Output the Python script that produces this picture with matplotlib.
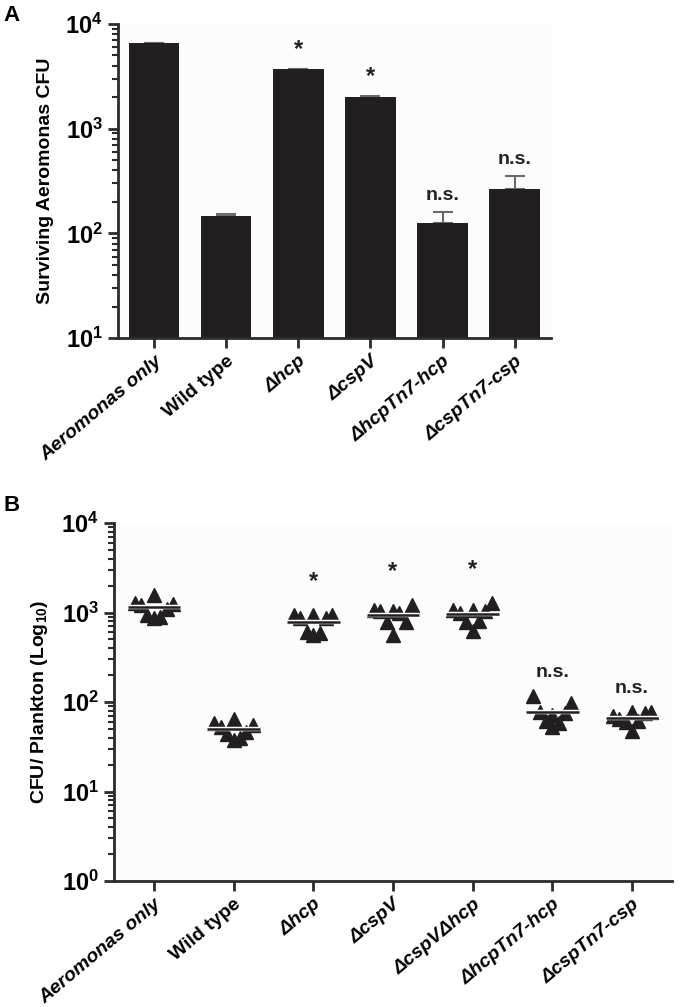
import numpy as np
import matplotlib
matplotlib.use("Agg")
import matplotlib.pyplot as plt
from matplotlib.ticker import LogLocator, NullFormatter, FixedLocator

plt.rcParams['font.family'] = ['Liberation Sans', 'DejaVu Sans']
plt.rcParams['mathtext.fontset'] = 'custom'
plt.rcParams['mathtext.rm'] = 'Liberation Sans'
plt.rcParams['mathtext.bf'] = 'Liberation Sans:bold'

# ---- data, panel A ----
labels_a = ['Aeromonas only', 'Wild type', 'Δhcp', 'ΔcspV', 'ΔhcpTn7-hcp', 'ΔcspTn7-csp']
cfu_mean = [6600, 147, 3700, 2010, 126, 265]
cfu_err = [0, 6, 0, 40, 34, 88]
sig_a = ['', '', '*', '*', 'n.s.', 'n.s.']

# ---- data, panel B ----
labels_b = ['Aeromonas only', 'Wild type', 'Δhcp', 'ΔcspV', 'ΔcspVΔhcp', 'ΔhcpTn7-hcp', 'ΔcspTn7-csp']
plankton = [
    [1280, 1200, 950, 880, 900, 1100, 1250, 1570],
    [58, 52, 44, 38, 40, 46, 55, 65],
    [930, 870, 600, 560, 590, 870, 940, 950],
    [1070, 1030, 790, 560, 1000, 780, 1220, 1050],
    [1060, 1000, 790, 620, 800, 1050, 1280, 1080],
    [118, 78, 62, 53, 58, 75, 98, 72],
    [70, 65, 60, 48, 62, 75, 78, 77],
]
sig_b = ['', '', '*', '*', '*', 'n.s.', 'n.s.']

bar_color = '#231f20'
spine_color = '#2b2b2b'
offsets = [-0.24, -0.16, -0.08, 0.0, 0.08, 0.16, 0.24, 0.0]

fig = plt.figure(figsize=(6.8, 10.07), dpi=100)
axA = fig.add_axes([0.1735, 0.6643, 0.6365, 0.3119])
axB = fig.add_axes([0.1676, 0.1251, 0.8204, 0.3555])


def style_axis(ax):
    ax.set_yscale('log')
    for s in ['top', 'right']:
        ax.spines[s].set_visible(False)
    for s in ['left', 'bottom']:
        ax.spines[s].set_linewidth(2)
        ax.spines[s].set_color(spine_color)
    ax.yaxis.set_minor_locator(LogLocator(base=10, subs=np.arange(2, 10)))
    ax.yaxis.set_minor_formatter(NullFormatter())
    ax.tick_params(axis='y', which='major', length=7, width=2, color=spine_color, pad=4)
    ax.tick_params(axis='y', which='minor', length=4, width=1.5, color=spine_color)
    ax.tick_params(axis='x', which='major', length=7, width=2, color=spine_color)
    ax.tick_params(axis='x', which='minor', length=0)
    ax.set_facecolor('#fcfcfc')


def decade_labels(ax, lo, hi):
    exps = list(range(lo, hi + 1))
    ax.yaxis.set_major_locator(FixedLocator([10.0 ** e for e in exps]))
    ax.set_yticklabels([r'$\mathbf{10^{%d}}$' % e for e in exps], fontsize=17)


# ---- panel A ----
style_axis(axA)
xa = np.arange(len(labels_a))
axA.bar(xa, cfu_mean, width=0.7, color=bar_color, zorder=2)
axA.errorbar(xa, cfu_mean, yerr=[np.zeros(len(cfu_err)), cfu_err], fmt='none',
             ecolor='#6b6b6b', elinewidth=1.5, capsize=7, capthick=1.5, zorder=1)
axA.set_xlim(-0.5, 5.5)
axA.set_ylim(10, 1e4)
decade_labels(axA, 1, 4)
axA.set_xticks(xa)
axA.set_xticklabels(labels_a, rotation=40, ha='right', rotation_mode='anchor',
                    fontsize=14, fontweight='bold', fontstyle='italic')
axA.get_xticklabels()[1].set_fontstyle('normal')
for i, s in enumerate(sig_a):
    if s:
        top = cfu_mean[i] + cfu_err[i]
        axA.text(xa[i], top * 1.2, s, ha='center', va='bottom',
                 fontsize=17 if s == '*' else 14, fontweight='bold', color='#222222')
axA.set_ylabel('Surviving Aeromonas CFU', fontsize=14, fontweight='bold', labelpad=8)

# ---- panel B ----
style_axis(axB)
for i, vals in enumerate(plankton):
    xs = [i + o for o in offsets]
    axB.plot(xs, vals, linestyle='none', marker='^', markersize=10,
             color=bar_color, zorder=2)
    m = np.mean(vals)
    axB.plot([i - 0.33, i + 0.33], [m, m], color='white', linewidth=3.2, zorder=3,
             solid_capstyle='butt')
    axB.plot([i - 0.33, i + 0.33], [m, m], color=bar_color, linewidth=1.8, zorder=4,
             solid_capstyle='butt')
    if sig_b[i]:
        y = max(vals) * (1.75 if sig_b[i] == '*' else 1.45)
        axB.text(i, y, sig_b[i], ha='center', va='bottom',
                 fontsize=17 if sig_b[i] == '*' else 14, fontweight='bold', color='#222222')
axB.set_xlim(-0.5, 6.5)
axB.set_ylim(1, 1e4)
decade_labels(axB, 0, 4)
axB.set_xticks(np.arange(len(labels_b)))
axB.set_xticklabels(labels_b, rotation=40, ha='right', rotation_mode='anchor',
                    fontsize=14, fontweight='bold', fontstyle='italic')
axB.get_xticklabels()[1].set_fontstyle('normal')
axB.set_ylabel(r'CFU/ Plankton (Log$_{\mathbf{10}}$)', fontsize=14, fontweight='bold', labelpad=8)

fig.text(0.005, 0.995, 'A', fontsize=16, fontweight='bold', va='top')
fig.text(0.005, 0.508, 'B', fontsize=16, fontweight='bold', va='top')

fig.savefig('out.png', dpi=100)
